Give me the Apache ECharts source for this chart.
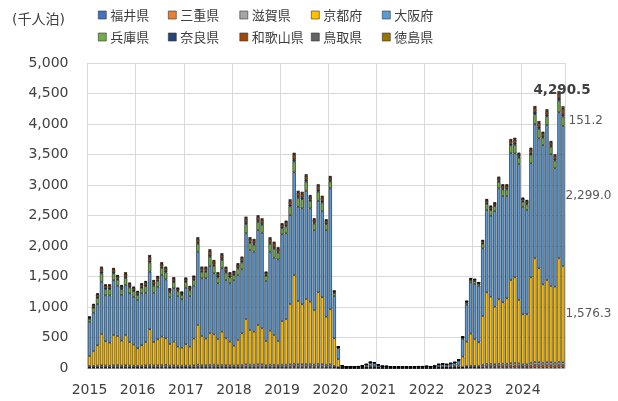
<!DOCTYPE html>
<html>
<head>
<meta charset="utf-8">
<script src="https://cdn.jsdelivr.net/npm/echarts@6/dist/echarts.min.js"></script>
<style>
html,body{margin:0;padding:0;background:#fff;}
#chart{width:618px;height:401px;}
</style>
</head>
<body>
<div id="chart"></div>
<script>
// ---- data (thousand guest-nights, monthly, 2015-01 .. 2024-11) ----
const years = ['2015','2016','2017','2018','2019','2020','2021','2022','2023','2024'];
const unitLabel = '(千人泊)';
const seriesNames = ['福井県','三重県','滋賀県','京都府','大阪府','兵庫県','奈良県','和歌山県','鳥取県','徳島県'];

const fukui = [
 3,3,4,4,4,4,5,5,4,4,4,4,
 3,4,4,5,4,4,5,5,4,4,4,4,
 4,4,4,5,5,5,5,5,4,5,4,4,
 4,4,5,6,5,5,6,6,4,5,5,5,
 5,5,6,7,6,6,7,7,6,7,6,5,
 6,4,1,0.5,0.3,0.3,0.3,0.3,0.4,0.6,1,1,
 0.6,0.3,0.3,0.3,0.2,0.2,0.3,0.3,0.2,0.3,0.3,0.3,
 0.3,0.3,0.4,0.6,0.7,0.6,0.8,0.9,1.2,2,3,4,
 4,3,5,7,7,6,7,7,7,8,8,7,
 6,6,8,10,9,8,9,9,8,10,12];
const mie = [
 10,11,12,14,13,12,15,16,13,14,13,12,
 12,12,14,15,14,14,16,17,13,14,12,12,
 12,12,14,17,15,15,16,17,14,15,14,14,
 13,14,15,18,17,17,18,18,14,17,16,15,
 17,17,18,21,19,19,20,20,18,20,19,17,
 18,11,4,1.5,1,1,1,1.2,1.5,2.5,4,4,
 2.5,1.5,1.4,1,1,1,1,1,1,1,1.2,1.2,
 1.4,1.2,1.6,2.5,3,2.5,3.3,4,5,6,11,14,
 13,12,20,25,24,22,25,26,25,30,30,27,
 22,22,30,38,34,32,34,34,32,38,38];
const shiga = [
 22,22,24,27,25,24,28,29,25,27,25,24,
 23,24,26,30,26,26,29,30,25,26,24,24,
 24,24,28,33,28,28,31,33,28,30,28,26,
 25,26,30,36,33,33,36,36,27,33,31,28,
 33,33,36,42,37,37,39,39,34,39,39,33,
 36,20,7,1.5,1,1,1.2,1.3,1.8,3,5,4.5,
 3,1.5,1.4,1,1,1,1,1,1,1,1.2,1.2,
 1.4,1.2,1.6,3,3.5,3,3.8,4.5,6,8,16,20,
 19,19,30,38,37,34,38,39,38,42,44,41,
 32,32,47,52,52,48,52,52,48,52,45];
const kyoto = [
 162,243,332,512,395,375,493,474,406,496,384,343,
 284,332,382,584,382,426,464,434,352,388,310,293,
 348,310,435,650,476,433,516,497,429,545,440,388,
 324,415,518,743,568,540,645,590,398,557,489,395,
 715,748,989,1454,1036,982,1065,1021,893,1174,1095,786,
 902,451,135,7,4,4,4,5,7,12,20,18,
 10,5.5,5,4,3.5,3.5,4,4,3.5,4,4.5,4.5,
 5,4.5,6,11,13,11,14,18,28,170,401,525,
 439,387,797,1170,1101,943,1056,1005,1072,1362,1404,1040,
 820,820,1401,1698,1539,1283,1347,1249,1245,1698,1576.3];
const osaka = [
 562,628,677,858,754,776,901,826,752,820,798,786,
 793,852,809,945,809,863,1011,967,764,874,830,793,
 929,830,869,1202,946,989,1104,1000,913,1039,956,956,
 1076,1065,1049,1404,1311,1312,1557,1568,983,1295,1267,1338,
 1421,1404,1459,1683,1546,1573,1775,1530,1311,1502,1414,1421,
 1983,694,175,21,12,12,12,13.5,19,33,52,50,
 31,17,16,12.5,11.5,11.5,12.5,12.5,11.5,12.5,14,14,
 16,14,19,35,40,35,44,53,76,289,607,841,
 902,929,1109,1350,1328,1568,1819,1742,1677,2077,2033,2229,
 1764,1710,1869,2196,2130,2284,2541,2163,1940,2393,2299.0];
const hyogo = [
 45,78,96,135,99,99,108,96,88,114,96,90,
 81,90,105,150,114,96,114,114,81,99,75,69,
 90,90,90,129,105,105,150,120,99,135,120,99,
 81,106,114,151,114,114,132,129,84,129,145,108,
 99,114,141,177,144,150,148,120,105,148,138,96,
 111,48,15,4,2.5,2.5,2.5,2.7,3.5,6,9,8.5,
 5.5,3,2.8,2.3,2,2,2.3,2.3,2,2.3,2.6,2.6,
 2.8,2.6,3.3,5.8,7,5.8,8,9.5,13,22,34,37,
 46,30,75,99,90,78,105,106,106,129,141,102,
 81,90,141,165,156,120,141,118,126,192,151.2];
const nara = [
 10,17,21,30,22,22,24,21,19,25,21,20,
 18,20,23,33,25,21,25,25,18,22,16,15,
 20,20,20,28,23,23,33,26,22,30,26,22,
 18,23,25,33,25,25,29,28,18,28,32,24,
 22,25,31,39,31,33,32,26,23,32,30,21,
 24,10,3,1,0.5,0.5,0.5,0.5,0.7,1.2,1.8,1.7,
 1,0.5,0.5,0.4,0.4,0.4,0.4,0.4,0.4,0.4,0.5,0.5,
 0.5,0.5,0.6,1,1.2,1,1.3,1.5,2.5,5,8,9,
 11,7,18,24,22,19,25,25,25,31,34,24,
 20,22,34,40,38,29,34,28,30,46,42];
const wakayama = [
 18,31,39,54,40,40,43,38,35,46,39,36,
 32,36,42,60,46,39,46,46,33,40,30,27,
 36,36,36,52,42,42,60,48,40,54,48,40,
 33,42,46,60,46,46,53,52,34,52,58,43,
 40,46,56,71,58,60,59,48,42,59,55,39,
 44,19,6,1,0.5,0.6,0.6,0.7,0.9,1.5,2.2,2,
 1.2,0.6,0.5,0.4,0.3,0.3,0.4,0.4,0.3,0.4,0.5,0.5,
 0.5,0.5,0.6,1,1.2,1,1.4,1.6,2.6,8,12,13,
 16,11,28,37,34,29,39,39,39,48,52,38,
 30,34,52,61,58,45,53,44,47,72,85];
const tottori = [
 4,6,7,10,7,7,8,7,6,8,7,7,
 6,7,8,11,8,7,8,8,6,7,6,5,
 7,7,6,9,8,8,11,9,7,10,9,7,
 6,8,8,11,8,8,10,9,6,9,10,8,
 7,8,10,13,10,11,11,9,8,11,10,7,
 8,4,1,0.3,0.1,0.1,0.1,0.1,0.2,0.3,0.5,0.4,
 0.3,0.1,0.1,0.1,0.1,0.1,0.1,0.1,0.1,0.1,0.1,0.1,
 0.1,0.1,0.1,0.2,0.2,0.2,0.2,0.2,0.3,1,2,3,
 3,2,6,8,7,6,8,8,8,10,11,8,
 7,7,11,13,12,9,11,9,10,15,14];
const tokushima = [
 5,10,12,17,12,12,14,12,12,14,12,11,
 10,11,13,19,14,12,14,15,10,12,10,9,
 11,11,11,17,13,13,19,15,12,17,16,12,
 10,13,15,19,15,15,16,17,11,17,18,14,
 12,15,18,22,19,19,19,15,13,19,18,12,
 15,6,2,0.2,0.1,0.1,0.1,0.1,0.2,0.3,0.5,0.4,
 0.3,0.1,0.1,0.1,0.1,0.1,0.1,0.1,0.1,0.1,0.1,0.1,
 0.1,0.1,0.1,0.2,0.2,0.2,0.2,0.2,0.4,2,4,4,
 6,4,10,12,11,10,14,14,14,16,18,13,
 10,11,18,21,20,15,18,15,16,24,28];

const seriesValues = [fukui, mie, shiga, kyoto, osaka, hyogo, nara, wakayama, tottori, tokushima];
const seriesColors = ['#4472C4','#ED7D31','#A5A5A5','#FFC000','#5B9BD5','#70AD47','#264478','#9E480E','#636363','#997300'];

// categories: one per month, labelled by year
const categories = [];
years.forEach(y => { for (let m = 1; m <= 12; m++) categories.push(y + '-' + String(m).padStart(2,'0')); });
categories.length = kyoto.length;

const lastIdx = kyoto.length - 1;
const totalLast = seriesValues.reduce((s, arr) => s + arr[lastIdx], 0);
const fmt1 = v => Number(v).toLocaleString('en-US', {minimumFractionDigits:1, maximumFractionDigits:1});

const NUMFONT = 'DejaVu Sans, Verdana, sans-serif';
const CJKFONT = 'Noto Sans CJK JP, sans-serif';
const sideLabel = {show:true, position:'right', distance:1, color:'#595959', fontSize:12, fontFamily:NUMFONT, formatter: p => fmt1(p.value)};
const lastLabels = {
  '京都府': sideLabel,
  '大阪府': sideLabel,
  '兵庫県': Object.assign({}, sideLabel, {distance:4}),
  '徳島県': {show:true, position:'top', distance:5, offset:[-1,-4], color:'#404040', fontSize:13.5, fontWeight:'bold', fontFamily:NUMFONT, formatter: () => fmt1(totalLast)}
};

const series = seriesNames.map((name, k) => ({
  name: name,
  type: 'bar',
  stack: 'total',
  barCategoryGap: '20%',
  itemStyle: {color: seriesColors[k], borderColor: '#000', borderWidth: 0.55},
  emphasis: {disabled: true},
  data: seriesValues[k].map((v, i) => (i === lastIdx && lastLabels[name]) ? {value: v, label: lastLabels[name]} : v)
}));

// legend: 2 rows x 5 fixed columns
const legendCols = [98, 168, 239.5, 311, 382];
const legendRows = [8.5, 30.5];
const legends = seriesNames.map((name, k) => ({
  left: legendCols[k % 5], top: legendRows[Math.floor(k / 5)],
  itemWidth: 8, itemHeight: 8, padding: 0, icon: 'rect', selectedMode: false,
  itemStyle: {borderColor: '#333', borderWidth: 0.6},
  textStyle: {fontSize: 13, color: '#404040', fontFamily: CJKFONT, padding: [0,0,0,-1]},
  data: [name]
}));

const chart = echarts.init(document.getElementById('chart'), null, {renderer: 'canvas'});
chart.setOption({
  animation: false,
  backgroundColor: '#fff',
  title: {text: unitLabel, left: 12, top: 13, padding: 0,
    textStyle: {fontSize: 14, fontWeight: 'normal', color: '#404040', fontFamily: NUMFONT + ', ' + CJKFONT}},
  legend: legends,
  grid: {left: 87.5, right: 53, top: 63, bottom: 33, containLabel: false},
  xAxis: {
    type: 'category',
    data: categories,
    axisLine: {show: true, lineStyle: {color: '#bfbfbf', width: 1}},
    axisTick: {show: false},
    axisLabel: {
      interval: (i) => i % 12 === 0,
      formatter: v => v.slice(0,4),
      color: '#404040', fontSize: 14, fontFamily: NUMFONT, margin: 15
    },
    splitLine: {show: true, interval: (i) => i % 12 === 0, lineStyle: {color: '#d9d9d9', width: 1}}
  },
  yAxis: {
    type: 'value', min: 0, max: 5000, interval: 500,
    axisLine: {show: false}, axisTick: {show: false},
    axisLabel: {color: '#404040', fontSize: 14, fontFamily: NUMFONT, margin: 19,
      formatter: v => Number(v).toLocaleString('en-US')},
    splitLine: {lineStyle: {color: '#d9d9d9', width: 1}}
  },
  series: series
});
</script>
</body>
</html>
